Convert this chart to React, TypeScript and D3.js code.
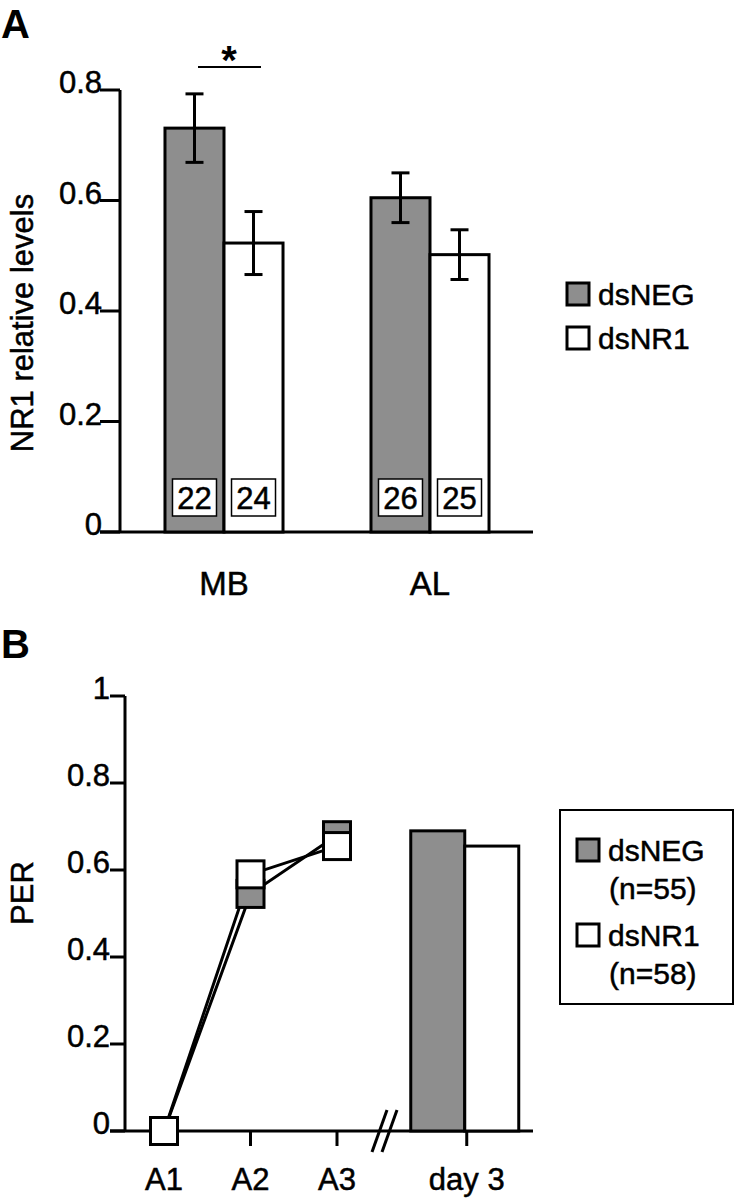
import React from "react";
import { scaleBand, scaleLinear, line } from "d3";

// Panel A
const regions = ["MB", "AL"];
const seriesNames = ["dsNEG", "dsNR1"];
const levelMeans = [
  [0.731, 0.523],
  [0.605, 0.502],
];
const levelErrors = [
  [0.062, 0.057],
  [0.045, 0.045],
];
const sampleSizes = [
  ["22", "24"],
  ["26", "25"],
];
const levelTicks = [0, 0.2, 0.4, 0.6, 0.8];

// Panel B
const trials = ["A1", "A2", "A3"];
const perNeg = [0, 0.545, 0.68];
const perNr1 = [0, 0.59, 0.655];
const day3Label = "day 3";
const day3Values = [0.69, 0.655];
const perTicks = [0, 0.2, 0.4, 0.6, 0.8, 1];
const legendCounts = ["(n=55)", "(n=58)"];

const GRAY = "#8e8e8e";
const FONT = "'Liberation Sans', Arial, sans-serif";
const fills = [GRAY, "#ffffff"];

// slight stroke so the text looks as heavy as the scanned figure
const txt = { stroke: "#000", strokeWidth: 0.5 } as const;

export default function App() {
  // ---- scales A
  const yA = scaleLinear().domain([0, 0.8]).range([532, 90]);
  const xA = scaleBand()
    .domain(regions)
    .range([121, 533])
    .paddingInner(0.427)
    .paddingOuter(0.2135);
  const xSub = scaleBand().domain(seriesNames).range([0, xA.bandwidth()]);

  // ---- scales B
  const yB = scaleLinear().domain([0, 1]).range([1131, 696]);
  const xB = scaleLinear().domain([0, 1]).range([164, 250.5]);
  const day3Pos = 3.5; // after the axis break
  const dayW = 54;
  const marker = 27;

  const perLine = line<number>()
    .x((_, i) => xB(i))
    .y((d) => yB(d));

  return (
    <svg
      width={735}
      height={1199}
      style={{ position: "absolute", left: 0, top: 0, background: "#fff" }}
      fontFamily={FONT}
    >
      {/* ================= Panel A ================= */}
      <text x={1} y={38} fontSize={40} fontWeight="bold">
        A
      </text>

      {/* y axis */}
      <line x1={120} x2={120} y1={yA(0.8)} y2={yA(0)} stroke="#000" strokeWidth={3} />
      <line x1={100} x2={533} y1={yA(0)} y2={yA(0)} stroke="#000" strokeWidth={3} />
      {levelTicks.map((t) => (
        <g key={t}>
          <line x1={100} x2={120} y1={yA(t)} y2={yA(t)} stroke="#000" strokeWidth={3} />
          <text x={102} y={yA(t) + 3} fontSize={31} textAnchor="end" {...txt}>
            {t === 0 ? "0" : t.toFixed(1)}
          </text>
        </g>
      ))}
      <text
        transform={`translate(33,${(yA(0) + yA(0.8)) / 2 + 12}) rotate(-90)`}
        fontSize={31}
        textAnchor="middle"
        {...txt}
      >
        NR1 relative levels
      </text>

      {/* bars */}
      {regions.map((r, ri) => (
        <g key={r} transform={`translate(${xA(r)},0)`}>
          {seriesNames.map((s, si) => {
            const x0 = xSub(s)!;
            const w = xSub.bandwidth();
            const v = levelMeans[ri][si];
            const e = levelErrors[ri][si];
            const cx = x0 + w / 2;
            return (
              <g key={s}>
                <rect
                  x={x0}
                  y={yA(v)}
                  width={w}
                  height={yA(0) - yA(v)}
                  fill={fills[si]}
                  stroke="#000"
                  strokeWidth={3}
                />
                <line x1={cx} x2={cx} y1={yA(v + e)} y2={yA(v - e)} stroke="#000" strokeWidth={3} />
                <line x1={cx - 9} x2={cx + 9} y1={yA(v + e)} y2={yA(v + e)} stroke="#000" strokeWidth={3} />
                <line x1={cx - 9} x2={cx + 9} y1={yA(v - e)} y2={yA(v - e)} stroke="#000" strokeWidth={3} />
                <rect
                  x={cx - 22}
                  y={479}
                  width={44}
                  height={37}
                  fill="#fff"
                  stroke="#000"
                  strokeWidth={1.5}
                />
                <text x={cx} y={509} fontSize={31} textAnchor="middle" {...txt}>
                  {sampleSizes[ri][si]}
                </text>
              </g>
            );
          })}
          <text x={xA.bandwidth() / 2} y={595} fontSize={33} textAnchor="middle" {...txt}>
            {r}
          </text>
        </g>
      ))}

      {/* significance */}
      <line x1={198} x2={261} y1={67} y2={67} stroke="#000" strokeWidth={2} />
      <text x={229} y={74} fontSize={40} fontWeight="bold" textAnchor="middle">
        *
      </text>

      {/* legend A */}
      {seriesNames.map((s, i) => (
        <g key={s} transform={`translate(567,${294 + i * 44})`}>
          <rect x={0} y={-11} width={22} height={22} fill={fills[i]} stroke="#000" strokeWidth={3} />
          <text x={31} y={11} fontSize={30} {...txt}>
            {s}
          </text>
        </g>
      ))}

      {/* ================= Panel B ================= */}
      <text x={1} y={658} fontSize={40} fontWeight="bold">
        B
      </text>

      <line x1={125} x2={125} y1={yB(1)} y2={yB(0)} stroke="#000" strokeWidth={3} />
      <line x1={110} x2={533} y1={yB(0)} y2={yB(0)} stroke="#000" strokeWidth={3} />
      {perTicks.map((t) => (
        <g key={t}>
          <line x1={110} x2={125} y1={yB(t)} y2={yB(t)} stroke="#000" strokeWidth={3} />
          <text x={110} y={yB(t) + 3} fontSize={31} textAnchor="end" {...txt}>
            {t === 0 || t === 1 ? String(t) : t.toFixed(1)}
          </text>
        </g>
      ))}
      <text transform={`translate(33,${893}) rotate(-90)`} fontSize={31} textAnchor="middle" {...txt}>
        PER
      </text>

      {/* x ticks + labels */}
      {trials.map((t, i) => (
        <g key={t}>
          <line x1={xB(i)} x2={xB(i)} y1={yB(0)} y2={yB(0) + 15} stroke="#000" strokeWidth={3} />
          <text x={xB(i)} y={1190} fontSize={31} textAnchor="middle" {...txt}>
            {t}
          </text>
        </g>
      ))}
      <line
        x1={xB(day3Pos)}
        x2={xB(day3Pos)}
        y1={yB(0)}
        y2={yB(0) + 15}
        stroke="#000"
        strokeWidth={3}
      />
      <text x={xB(day3Pos)} y={1190} fontSize={31} textAnchor="middle" {...txt}>
        {day3Label}
      </text>

      {/* axis break */}
      <line x1={372} x2={387} y1={1152} y2={1110} stroke="#000" strokeWidth={3} />
      <line x1={382} x2={397} y1={1152} y2={1110} stroke="#000" strokeWidth={3} />

      {/* day 3 bars */}
      {day3Values.map((v, i) => (
        <rect
          key={i}
          x={xB(day3Pos) - 2 - dayW + i * dayW}
          y={yB(v)}
          width={dayW}
          height={yB(0) - yB(v)}
          fill={fills[i]}
          stroke="#000"
          strokeWidth={3}
        />
      ))}

      {/* acquisition lines */}
      <path d={perLine(perNeg)!} fill="none" stroke="#000" strokeWidth={3} />
      <path d={perLine(perNr1)!} fill="none" stroke="#000" strokeWidth={3} />
      {[perNeg, perNr1].map((series, si) =>
        series.map((v, i) => (
          <rect
            key={`${si}-${i}`}
            x={xB(i) - marker / 2}
            y={yB(v) - marker / 2}
            width={marker}
            height={marker}
            fill={fills[si]}
            stroke="#000"
            strokeWidth={3}
          />
        )),
      )}

      {/* legend B */}
      <rect x={560} y={810} width={173} height={194} fill="none" stroke="#000" strokeWidth={2} />
      {seriesNames.map((s, i) => (
        <g key={s} transform={`translate(577,${850 + i * 85})`}>
          <rect x={0} y={-11} width={22} height={22} fill={fills[i]} stroke="#000" strokeWidth={3} />
          <text x={31} y={11} fontSize={30} {...txt}>
            {s}
          </text>
          <text x={32} y={49} fontSize={30} {...txt}>
            {legendCounts[i]}
          </text>
        </g>
      ))}
    </svg>
  );
}
